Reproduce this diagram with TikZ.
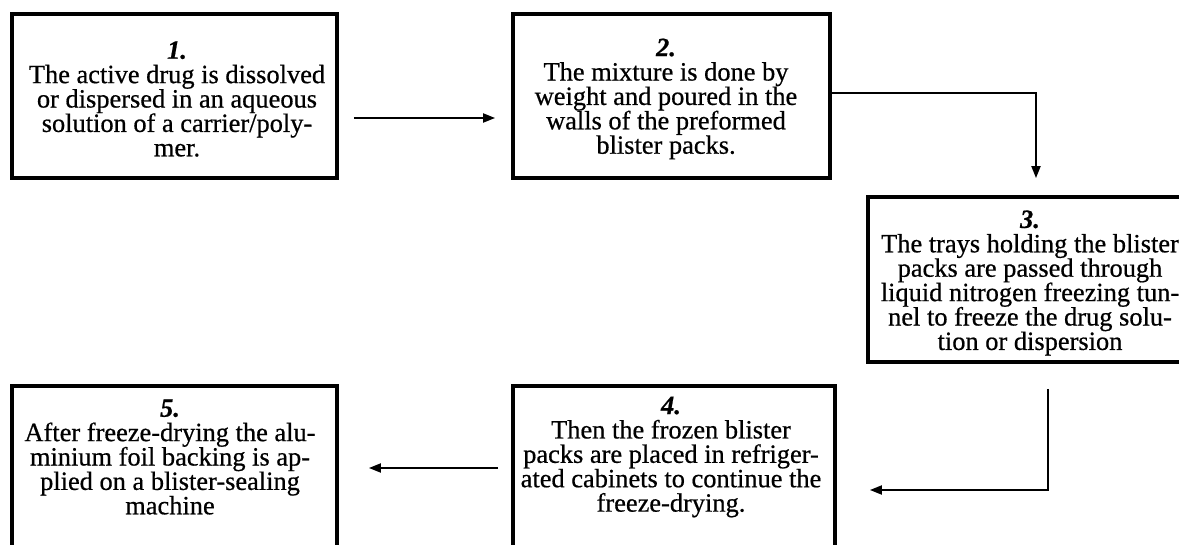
\documentclass[tikz,border=0pt]{standalone}
\usepackage{fontspec}
\setmainfont{Liberation Serif}[FakeBold=0.6]
\usetikzlibrary{arrows.meta,shadows}
\tikzset{
  stepbox/.style={draw=black, line width=1.9pt, fill=white, rectangle, inner sep=0pt,
    drop shadow={shadow xshift=0.9pt,shadow yshift=-0.9pt,opacity=0.25}},
  steptext/.style={align=center, font=\fontsize{13.2}{12.2}\selectfont, inner sep=0pt},
  arr/.style={line width=1pt, -{Triangle[length=6pt,width=4.5pt]}}
}
\begin{document}
\begin{tikzpicture}[x=0.5pt,y=-0.5pt]
\useasboundingbox (0,0) rectangle (1179,545);
% boxes
\node[stepbox, minimum width=162.5pt, minimum height=82pt] (b1) at (174.5,96) {};
\node[stepbox, minimum width=158.5pt, minimum height=82pt] (b2) at (671.5,96) {};
\node[stepbox, minimum width=162pt, minimum height=82.5pt] (b3) at (1030,279.5) {};
\node[stepbox, minimum width=161pt, minimum height=87pt] (b4) at (674,473) {};
\node[stepbox, minimum width=162.5pt, minimum height=87pt] (b5) at (174.5,473) {};
% texts
\node[steptext] (t1) at (177,99) {\textbf{\textit{1.}}\\The active drug is dissolved\\or dispersed in an aqueous\\solution of a carrier/poly-\\mer.};
\node[steptext] (t2) at (666,99) {\textbf{\textit{2.}}\\The mixture is done by\\weight and poured in the\\walls of the preformed\\blister packs.};
\node[steptext] (t3) at (1030,283) {\textbf{\textit{3.}}\\The trays holding the blister\\packs are passed through\\liquid nitrogen freezing tun-\\nel to freeze the drug solu-\\tion or dispersion};
\node[steptext] (t4) at (671,457) {\textbf{\textit{4.}}\\Then the frozen blister\\packs are placed in refriger-\\ated cabinets to continue the\\freeze-drying.};
\node[steptext] (t5) at (170,457) {\textbf{\textit{5.}}\\After freeze-drying the alu-\\minium foil backing is ap-\\plied on a blister-sealing\\machine};
% connectors
\draw[arr] ([xshift=7.5pt,yshift=-11pt]b1.east) -- ([xshift=-8pt,yshift=-11pt]b2.west);
\draw[arr] ([yshift=1.5pt]b2.east) -| ([xshift=3pt,yshift=8.5pt]b3.north);
\draw[arr] ([xshift=9pt,yshift=-12.5pt]b3.south) |- ([xshift=16.5pt,yshift=-8.5pt]b4.east);
\draw[arr] ([xshift=-6.5pt,yshift=2.5pt]b4.west) -- ([xshift=15pt,yshift=2.5pt]b5.east);
\end{tikzpicture}
\end{document}
